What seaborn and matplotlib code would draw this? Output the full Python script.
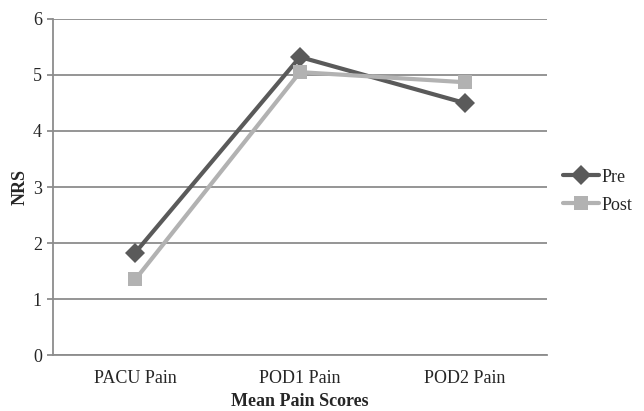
import pandas as pd
import matplotlib.pyplot as plt
import seaborn as sns

categories = ['PACU Pain', 'POD1 Pain', 'POD2 Pain']
pre = [1.83, 5.32, 4.50]
post = [1.35, 5.05, 4.87]

df = pd.DataFrame({
    'cat': categories * 2,
    'val': pre + post,
    'grp': ['Pre'] * 3 + ['Post'] * 3,
})

sns.set_style('white')
plt.rcParams['font.family'] = ['Liberation Serif', 'DejaVu Serif']

fig = plt.figure(figsize=(6.44, 4.11), dpi=100)
ax = fig.add_axes([0.0823, 0.136, 0.767, 0.818])

palette = {'Pre': '#5a5a5a', 'Post': '#b2b2b2'}
markers = {'Pre': 'D', 'Post': 's'}
sns.lineplot(data=df, x='cat', y='val', hue='grp', style='grp', palette=palette,
             markers=markers, dashes=False, linewidth=3, markersize=10,
             markeredgewidth=0, ax=ax, sort=False)

ax.set_ylim(0, 6)
ax.set_xlim(-0.5, 2.5)
ax.set_yticks(range(7))
ax.yaxis.grid(True, color='#8c8c8c', linewidth=1.3)
ax.set_axisbelow(True)
for s in ['top', 'right']:
    ax.spines[s].set_visible(False)
for s in ['left', 'bottom']:
    ax.spines[s].set_color('#8c8c8c')
    ax.spines[s].set_linewidth(1.3)

fs = 13
ax.set_xticks([0, 1, 2])
ax.set_xticklabels(categories)
ax.set_xticks([-0.5, 0.5, 1.5, 2.5], minor=True)
ax.tick_params(axis='x', which='major', length=0, pad=11, labelsize=fs)
ax.tick_params(axis='x', which='minor', length=5, color='#8c8c8c', width=1.3, direction='out')
ax.tick_params(axis='y', length=4, color='#8c8c8c', width=1.3, direction='out', labelsize=fs, pad=4)
ax.tick_params(bottom=True, left=True)

ax.set_xlabel('Mean Pain Scores', fontweight='bold', fontsize=fs, labelpad=4)
ax.set_ylabel('NRS', fontweight='bold', fontsize=fs, labelpad=3)

ax.get_legend().remove()
handles, labels = ax.get_legend_handles_labels()
fig.legend(handles, labels, loc='center left', bbox_to_anchor=(0.855, 0.535),
           frameon=False, fontsize=fs, handlelength=2.0, handletextpad=0.1,
           labelspacing=0.6, borderpad=0.2)

fig.savefig('out.png', dpi=100)
